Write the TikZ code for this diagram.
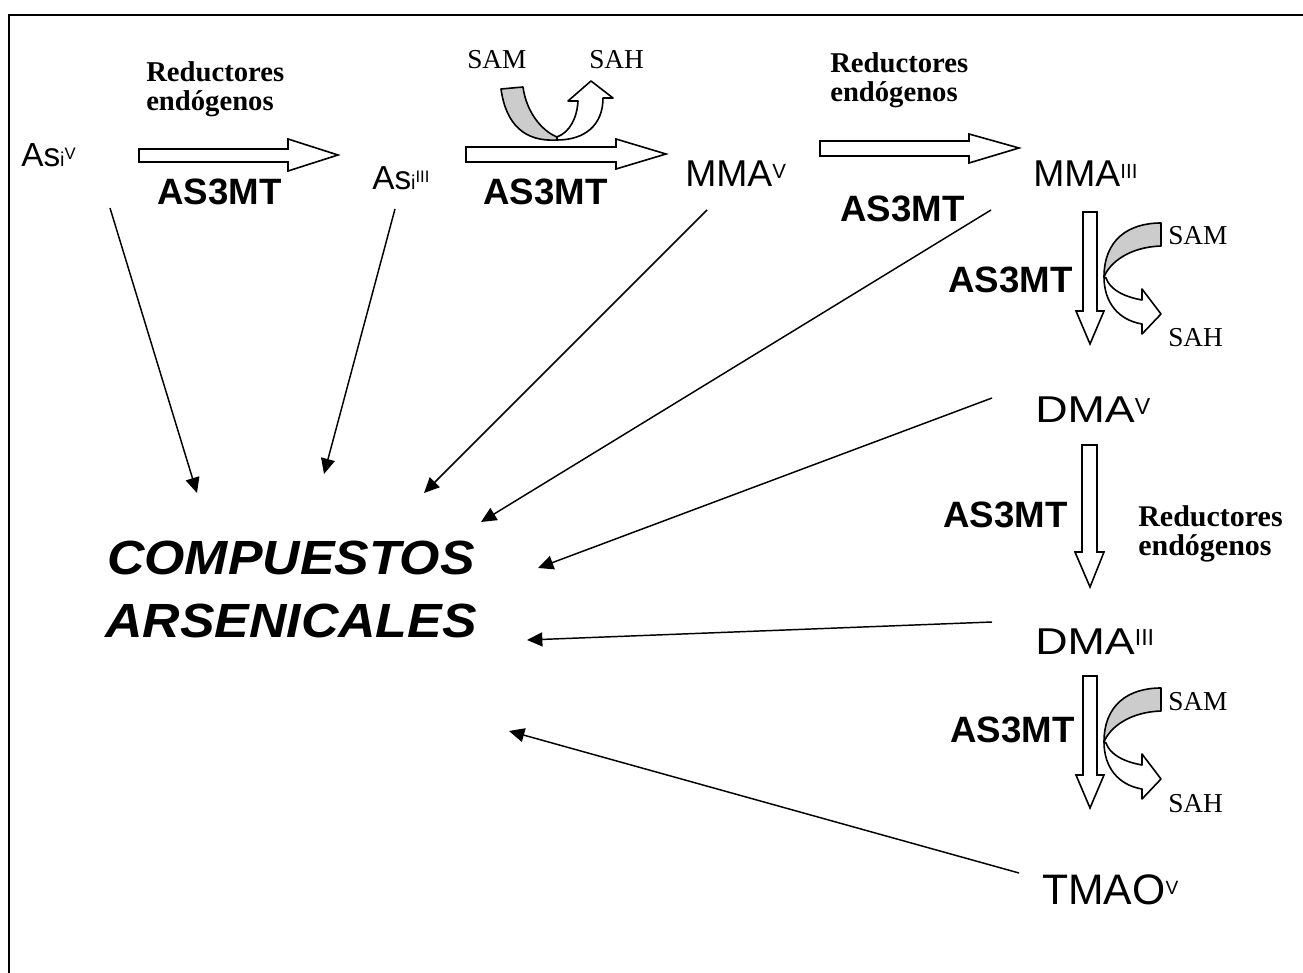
\documentclass[tikz,border=0pt]{standalone}
\usepackage{fontspec}
\setmainfont{Liberation Serif}
\newfontfamily\arialf{Liberation Sans}
\usepackage{graphicx}
\usetikzlibrary{arrows.meta}
\definecolor{sambg}{RGB}{204,204,204}
\newcommand\spx[2][0.55]{\raisebox{0.22em}{\scalebox{#1}{#2}}}
\newcommand\sbx[1]{\scalebox{0.6}{#1}}
\begin{document}
\begin{tikzpicture}[x=0.75pt,y=-0.75pt,
  chemS/.style={inner sep=0pt, anchor=base west, font=\arialf\fontsize{25}{28}\selectfont},
  chem/.style={inner sep=0pt, anchor=base west, font=\arialf\fontsize{28}{32}\selectfont},
  chemL/.style={inner sep=0pt, anchor=base west, font=\arialf\fontsize{32}{36}\selectfont},
  enz/.style={inner sep=0pt, anchor=base west, font=\arialf\bfseries\fontsize{27.5}{32}\selectfont},
  redu/.style={inner sep=0pt, anchor=base west, font=\bfseries\fontsize{21.5}{20.5}\selectfont},
  cof/.style={inner sep=0pt, anchor=base west, font=\fontsize{20.5}{24}\selectfont},
  blk/.style={draw=black, fill=white, line width=1.2pt, line join=miter},
  gry/.style={draw=black, fill=sambg, line width=1.2pt, line join=round},
  conn/.style={line width=1.1pt, -{Triangle[length=11.5pt,width=10.5pt]}},
]
\useasboundingbox (0,0) rectangle (1303,973);
% frame
\draw[line width=1.5pt] (9,973) -- (9,15) -- (1303,15);

% species
\node[chemS] (asv) at (21,167) {As\sbx{i}\spx[0.5]{V}};
\node[chemS] (asiii) at (372,190) {As\sbx{i}\spx[0.5]{III}};
\node[chem] (mmav) at (685,187) {MMA\spx{V}};
\node[chem] (mmaiii) at (1033,187) {MMA\spx{III}};
\node[chem] (dmav) at (1035,423) {\scalebox{1.2}[1]{DMA}\spx[0.62]{V}};
\node[chem] (dmaiii) at (1035,654) {\scalebox{1.2}[1]{DMA}\spx[0.62]{III}};
\node[chemL] (tmao) at (1042,904) {TMAO\spx[0.45]{V}};

\node[inner sep=0pt, anchor=base, font=\arialf\bfseries\itshape\fontsize{36}{47.25}\selectfont] (comp) at (291,574)
  {\begin{tabular}[t]{@{}c@{}}\scalebox{1.08}[1]{COMPUESTOS}\\\scalebox{1.08}[1]{ARSENICALES}\end{tabular}};

% block arrows
\draw[blk] (139,149) -- (288,149) -- (288,139) -- (338,155) -- (288,171) -- (288,162) -- (139,162) -- cycle;
\draw[blk] (466,147) -- (616,147) -- (616,139) -- (666,154) -- (616,169) -- (616,162) -- (466,162) -- cycle;
\draw[blk] (820,141) -- (969,141) -- (969,134) -- (1019,148) -- (969,163) -- (969,156) -- (820,156) -- cycle;
\draw[blk] (1083,212) -- (1083,311) -- (1076,311) -- (1090,344) -- (1104,311) -- (1097,311) -- (1097,212) -- cycle;
\draw[blk] (1082,445) -- (1082,552) -- (1075,552) -- (1090,587) -- (1104,552) -- (1097,552) -- (1097,445) -- cycle;
\draw[blk] (1083,676) -- (1083,775) -- (1076,775) -- (1090,808) -- (1104,775) -- (1097,775) -- (1097,676) -- cycle;

% top SAM -> SAH
\draw[blk, line join=round] (557,140) .. controls (585,140) and (603,125) .. (603,98) -- (613,98) -- (591,81) -- (568,101) -- (578,101) .. controls (577,118) and (570,132) .. (557,137) -- cycle;
\draw[gry] (501,89) .. controls (506,125) and (525,142) .. (557,140) -- (557,137) .. controls (540,130) and (526,110) .. (523,87) -- cycle;

% right SAM -> SAH (two)
\foreach \dy in {0,465}{
  \begin{scope}[yshift=-\dy*0.75pt]
  \draw[blk, line join=round] (1104,277) .. controls (1104,302) and (1118,320) .. (1142,324) -- (1142,334) -- (1161,314) -- (1142,289) -- (1142,300) .. controls (1125,297) and (1110,290) .. (1106,278) -- cycle;
  \draw[gry] (1161,223) .. controls (1128,223) and (1104,240) .. (1104,277) .. controls (1110,262) and (1130,247) .. (1161,246) -- cycle;
  \end{scope}
}

% cofactor labels
\node[cof] (sam1) at (467,69) {SAM};
\node[cof] (sah1) at (589,69) {SAH};
\node[cof] (sam2) at (1168,245) {SAM};
\node[cof] (sah2) at (1168,347) {SAH};
\node[cof] (sam3) at (1168,710) {SAM};
\node[cof] (sah3) at (1168,812) {SAH};

% enzyme labels
\node[enz] (e1) at (157,205) {AS3MT};
\node[enz] (e2) at (483,205) {AS3MT};
\node[enz] (e3) at (840,222) {AS3MT};
\node[enz, anchor=base east] (e4) at (1073,293) {AS3MT};
\node[enz, anchor=base east] (e5) at (1068,527) {AS3MT};
\node[enz, anchor=base east] (e6) at (1075,742) {AS3MT};

% reductores
\node[redu] (r1) at (146,82) {\begin{tabular}[t]{@{}l@{}}Reductores\\endógenos\end{tabular}};
\node[redu] (r2) at (830,73) {\begin{tabular}[t]{@{}l@{}}Reductores\\endógenos\end{tabular}};
\node[redu, font=\bfseries\fontsize{22.5}{21.75}\selectfont] (r3) at (1138,526) {\begin{tabular}[t]{@{}l@{}}Reductores\\endógenos\end{tabular}};

% connectors
\coordinate (c1s) at (110,208); \coordinate (c1e) at (197,493);
\coordinate (c2s) at (395,209); \coordinate (c2e) at (324,474);
\coordinate (c3s) at (707,210); \coordinate (c3e) at (424,493);
\coordinate (c4s) at (991,210); \coordinate (c4e) at (481,522);
\coordinate (c5s) at (992,398); \coordinate (c5e) at (538,568);
\coordinate (c6s) at (992,622); \coordinate (c6e) at (527,640);
\coordinate (c7s) at (1019,873); \coordinate (c7e) at (509,731);
\foreach \i in {1,...,7}{\draw[conn] (c\i s) -- (c\i e);}
\end{tikzpicture}
\end{document}
